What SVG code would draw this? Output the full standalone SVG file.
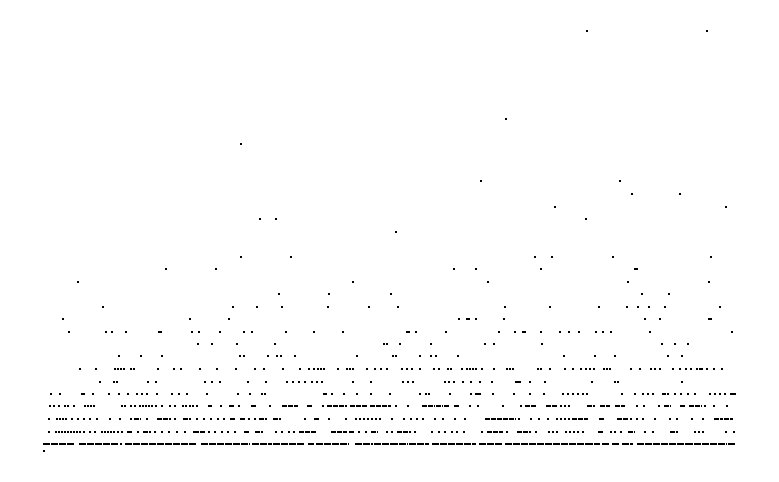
<svg xmlns="http://www.w3.org/2000/svg" xmlns:xlink="http://www.w3.org/1999/xlink" width="779" height="482" viewBox="0 0 779 482">
<style>
.s{stroke:#000;stroke-width:2;fill:none}
.b{stroke-dasharray:5 1}
.c{stroke-dasharray:7 1}
</style>
<defs><rect id="d" width="2" height="2" fill="#000"/></defs>
<rect width="779" height="482" fill="#fff"/>
<g id="dots">
<g id="r31" transform="translate(0,30)"><use href="#d" x="586"/><use href="#d" x="706"/></g>
<g id="r119" transform="translate(0,118)"><use href="#d" x="505"/></g>
<g id="r144" transform="translate(0,143)"><use href="#d" x="240"/></g>
<g id="r181" transform="translate(0,180)"><use href="#d" x="480"/><use href="#d" x="619"/></g>
<g id="r194" transform="translate(0,193)"><use href="#d" x="631"/><use href="#d" x="679"/></g>
<g id="r207" transform="translate(0,206)"><use href="#d" x="554"/><use href="#d" x="725"/></g>
<g id="r219" transform="translate(0,218)"><use href="#d" x="259"/><use href="#d" x="275"/><use href="#d" x="585"/></g>
<g id="r232" transform="translate(0,231)"><use href="#d" x="395"/></g>
<g id="r257" transform="translate(0,256)"><use href="#d" x="240"/><use href="#d" x="290"/><use href="#d" x="534"/><use href="#d" x="551"/><use href="#d" x="612"/><use href="#d" x="710"/></g>
<g id="r269" transform="translate(0,268)"><use href="#d" x="165"/><use href="#d" x="215"/><use href="#d" x="453"/><use href="#d" x="475"/><use href="#d" x="540"/><use href="#d" x="634"/><use href="#d" x="636"/></g>
<g id="r282" transform="translate(0,281)"><use href="#d" x="77"/><use href="#d" x="352"/><use href="#d" x="487"/><use href="#d" x="627"/><use href="#d" x="708"/></g>
<g id="r294" transform="translate(0,293)"><use href="#d" x="278"/><use href="#d" x="328"/><use href="#d" x="390"/><use href="#d" x="641"/><use href="#d" x="668"/></g>
<g id="r307" transform="translate(0,306)"><use href="#d" x="102"/><use href="#d" x="232"/><use href="#d" x="256"/><use href="#d" x="281"/><use href="#d" x="327"/><use href="#d" x="368"/><use href="#d" x="397"/><use href="#d" x="504"/><use href="#d" x="549"/><use href="#d" x="598"/><use href="#d" x="626"/><use href="#d" x="637"/><use href="#d" x="648"/><use href="#d" x="664"/><use href="#d" x="719"/></g>
<g id="r319" transform="translate(0,318)"><use href="#d" x="62"/><use href="#d" x="189"/><use href="#d" x="228"/><use href="#d" x="458"/><use href="#d" x="466"/><use href="#d" x="468"/><use href="#d" x="475"/><use href="#d" x="503"/><use href="#d" x="644"/><use href="#d" x="659"/><use href="#d" x="708"/><use href="#d" x="710"/></g>
<g id="r332" transform="translate(0,331)"><use href="#d" x="68"/><use href="#d" x="105"/><use href="#d" x="111"/><use href="#d" x="125"/><use href="#d" x="158"/><use href="#d" x="160"/><use href="#d" x="191"/><use href="#d" x="198"/><use href="#d" x="219"/><use href="#d" x="243"/><use href="#d" x="251"/><use href="#d" x="285"/><use href="#d" x="313"/><use href="#d" x="342"/><use href="#d" x="406"/><use href="#d" x="408"/><use href="#d" x="415"/><use href="#d" x="445"/><use href="#d" x="498"/><use href="#d" x="514"/><use href="#d" x="522"/><use href="#d" x="524"/><use href="#d" x="540"/><use href="#d" x="559"/><use href="#d" x="568"/><use href="#d" x="578"/><use href="#d" x="595"/><use href="#d" x="602"/><use href="#d" x="610"/><use href="#d" x="649"/><use href="#d" x="731"/></g>
<g id="r344" transform="translate(0,343)"><use href="#d" x="197"/><use href="#d" x="211"/><use href="#d" x="236"/><use href="#d" x="274"/><use href="#d" x="383"/><use href="#d" x="386"/><use href="#d" x="399"/><use href="#d" x="430"/><use href="#d" x="484"/><use href="#d" x="493"/><use href="#d" x="541"/><use href="#d" x="661"/><use href="#d" x="674"/><use href="#d" x="687"/></g>
<g id="r356" transform="translate(0,355)"><use href="#d" x="118"/><use href="#d" x="140"/><use href="#d" x="161"/><use href="#d" x="239"/><use href="#d" x="243"/><use href="#d" x="267"/><use href="#d" x="276"/><use href="#d" x="280"/><use href="#d" x="294"/><use href="#d" x="356"/><use href="#d" x="392"/><use href="#d" x="395"/><use href="#d" x="419"/><use href="#d" x="430"/><use href="#d" x="435"/><use href="#d" x="457"/><use href="#d" x="563"/><use href="#d" x="594"/><use href="#d" x="614"/><use href="#d" x="667"/><use href="#d" x="681"/></g>
<g id="r369" transform="translate(0,368)"><use href="#d" x="79"/><use href="#d" x="95"/><use href="#d" x="114"/><use href="#d" x="117"/><use href="#d" x="120"/><use href="#d" x="123"/><use href="#d" x="130"/><use href="#d" x="133"/><use href="#d" x="157"/><use href="#d" x="173"/><use href="#d" x="180"/><use href="#d" x="199"/><use href="#d" x="216"/><use href="#d" x="235"/><use href="#d" x="254"/><use href="#d" x="263"/><use href="#d" x="282"/><use href="#d" x="299"/><use href="#d" x="308"/><use href="#d" x="313"/><use href="#d" x="317"/><use href="#d" x="320"/><use href="#d" x="323"/><use href="#d" x="337"/><use href="#d" x="346"/><use href="#d" x="349"/><use href="#d" x="352"/><use href="#d" x="366"/><use href="#d" x="374"/><use href="#d" x="380"/><use href="#d" x="386"/><use href="#d" x="401"/><use href="#d" x="406"/><use href="#d" x="411"/><use href="#d" x="419"/><use href="#d" x="433"/><use href="#d" x="438"/><use href="#d" x="447"/><use href="#d" x="450"/><use href="#d" x="461"/><use href="#d" x="466"/><use href="#d" x="469"/><use href="#d" x="472"/><use href="#d" x="475"/><use href="#d" x="481"/><use href="#d" x="493"/><use href="#d" x="506"/><use href="#d" x="509"/><use href="#d" x="512"/><use href="#d" x="537"/><use href="#d" x="540"/><use href="#d" x="549"/><use href="#d" x="564"/><use href="#d" x="572"/><use href="#d" x="580"/><use href="#d" x="585"/><use href="#d" x="589"/><use href="#d" x="593"/><use href="#d" x="603"/><use href="#d" x="606"/><use href="#d" x="609"/><use href="#d" x="630"/><use href="#d" x="639"/><use href="#d" x="650"/><use href="#d" x="654"/><use href="#d" x="659"/><use href="#d" x="672"/><use href="#d" x="679"/><use href="#d" x="685"/><use href="#d" x="690"/><use href="#d" x="696"/><use href="#d" x="699"/><use href="#d" x="701"/><use href="#d" x="706"/><use href="#d" x="713"/><use href="#d" x="721"/></g>
<g id="r382" transform="translate(0,381)"><use href="#d" x="99"/><use href="#d" x="113"/><use href="#d" x="116"/><use href="#d" x="147"/><use href="#d" x="155"/><use href="#d" x="204"/><use href="#d" x="211"/><use href="#d" x="219"/><use href="#d" x="247"/><use href="#d" x="265"/><use href="#d" x="286"/><use href="#d" x="292"/><use href="#d" x="298"/><use href="#d" x="304"/><use href="#d" x="311"/><use href="#d" x="316"/><use href="#d" x="321"/><use href="#d" x="352"/><use href="#d" x="370"/><use href="#d" x="402"/><use href="#d" x="407"/><use href="#d" x="412"/><use href="#d" x="444"/><use href="#d" x="448"/><use href="#d" x="453"/><use href="#d" x="462"/><use href="#d" x="470"/><use href="#d" x="479"/><use href="#d" x="491"/><use href="#d" x="515"/><use href="#d" x="517"/><use href="#d" x="519"/><use href="#d" x="529"/><use href="#d" x="544"/><use href="#d" x="591"/><use href="#d" x="614"/><use href="#d" x="617"/><use href="#d" x="681"/></g>
<g id="r394" transform="translate(0,393)"><use href="#d" x="50"/><use href="#d" x="59"/><use href="#d" x="81"/><use href="#d" x="83"/><use href="#d" x="92"/><use href="#d" x="108"/><use href="#d" x="118"/><use href="#d" x="127"/><use href="#d" x="136"/><use href="#d" x="141"/><use href="#d" x="146"/><use href="#d" x="156"/><use href="#d" x="171"/><use href="#d" x="178"/><use href="#d" x="186"/><use href="#d" x="206"/><use href="#d" x="237"/><use href="#d" x="249"/><use href="#d" x="261"/><use href="#d" x="264"/><use href="#d" x="323"/><use href="#d" x="325"/><use href="#d" x="331"/><use href="#d" x="343"/><use href="#d" x="356"/><use href="#d" x="370"/><use href="#d" x="389"/><use href="#d" x="419"/><use href="#d" x="425"/><use href="#d" x="428"/><use href="#d" x="449"/><use href="#d" x="470"/><use href="#d" x="475"/><use href="#d" x="477"/><use href="#d" x="479"/><use href="#d" x="492"/><use href="#d" x="513"/><use href="#d" x="529"/><use href="#d" x="543"/><use href="#d" x="562"/><use href="#d" x="567"/><use href="#d" x="572"/><use href="#d" x="577"/><use href="#d" x="582"/><use href="#d" x="586"/><use href="#d" x="621"/><use href="#d" x="634"/><use href="#d" x="642"/><use href="#d" x="647"/><use href="#d" x="652"/><use href="#d" x="662"/><use href="#d" x="664"/><use href="#d" x="667"/><use href="#d" x="674"/><use href="#d" x="680"/><use href="#d" x="687"/><use href="#d" x="694"/><use href="#d" x="709"/><use href="#d" x="714"/><use href="#d" x="719"/><use href="#d" x="724"/><use href="#d" x="730"/><use href="#d" x="732"/><use href="#d" x="734"/></g>
<g id="r406" transform="translate(0,405)"><use href="#d" x="49"/><use href="#d" x="53"/><use href="#d" x="58"/><use href="#d" x="64"/><use href="#d" x="67"/><use href="#d" x="73"/><use href="#d" x="84"/><use href="#d" x="87"/><use href="#d" x="90"/><use href="#d" x="93"/><use href="#d" x="121"/><use href="#d" x="124"/><use href="#d" x="130"/><use href="#d" x="134"/><use href="#d" x="139"/><use href="#d" x="142"/><use href="#d" x="145"/><use href="#d" x="148"/><use href="#d" x="151"/><use href="#d" x="155"/><use href="#d" x="161"/><use href="#d" x="169"/><use href="#d" x="174"/><use href="#d" x="182"/><use href="#d" x="185"/><use href="#d" x="189"/><use href="#d" x="192"/><use href="#d" x="196"/><use href="#d" x="220"/><use href="#d" x="238"/><use href="#d" x="269"/><use href="#d" x="322"/><use href="#d" x="395"/><use href="#d" x="407"/><use href="#d" x="469"/><use href="#d" x="477"/><use href="#d" x="502"/><use href="#d" x="520"/><use href="#d" x="560"/><use href="#d" x="564"/><use href="#d" x="568"/><use href="#d" x="636"/><use href="#d" x="643"/><use href="#d" x="658"/><use href="#d" x="704"/><use href="#d" x="713"/><use href="#d" x="726"/>
<path class="s b" d="M208 1H212M229 1H234M251 1H256M282 1H298M307 1H313M327 1H347M350 1H368M370 1H391M422 1H435M436 1H443M444 1H449M454 1H459M525 1H537M546 1H558M587 1H595M600 1H610M615 1H625M664 1H671M680 1H686M689 1H702"/></g>
<g id="r419" transform="translate(0,418)"><use href="#d" x="48"/><use href="#d" x="56"/><use href="#d" x="59"/><use href="#d" x="62"/><use href="#d" x="65"/><use href="#d" x="71"/><use href="#d" x="77"/><use href="#d" x="83"/><use href="#d" x="89"/><use href="#d" x="96"/><use href="#d" x="109"/><use href="#d" x="119"/><use href="#d" x="130"/><use href="#d" x="146"/><use href="#d" x="174"/><use href="#d" x="196"/><use href="#d" x="203"/><use href="#d" x="210"/><use href="#d" x="217"/><use href="#d" x="223"/><use href="#d" x="248"/><use href="#d" x="254"/><use href="#d" x="304"/><use href="#d" x="328"/><use href="#d" x="345"/><use href="#d" x="355"/><use href="#d" x="359"/><use href="#d" x="363"/><use href="#d" x="367"/><use href="#d" x="371"/><use href="#d" x="375"/><use href="#d" x="379"/><use href="#d" x="391"/><use href="#d" x="403"/><use href="#d" x="410"/><use href="#d" x="416"/><use href="#d" x="422"/><use href="#d" x="434"/><use href="#d" x="442"/><use href="#d" x="454"/><use href="#d" x="464"/><use href="#d" x="518"/><use href="#d" x="530"/><use href="#d" x="538"/><use href="#d" x="547"/><use href="#d" x="556"/><use href="#d" x="560"/><use href="#d" x="564"/><use href="#d" x="568"/><use href="#d" x="586"/><use href="#d" x="630"/><use href="#d" x="636"/><use href="#d" x="642"/><use href="#d" x="654"/><use href="#d" x="669"/><use href="#d" x="676"/><use href="#d" x="691"/><use href="#d" x="702"/>
<path class="s b" d="M134 1H141M157 1H171M183 1H191M230 1H235M240 1H245M259 1H267M273 1H281M314 1H319M485 1H516M572 1H586M599 1H605M617 1H628M714 1H723M724 1H733"/></g>
<g id="r432" transform="translate(0,431)"><use href="#d" x="48"/><use href="#d" x="55"/><use href="#d" x="58"/><use href="#d" x="61"/><use href="#d" x="64"/><use href="#d" x="67"/><use href="#d" x="70"/><use href="#d" x="73"/><use href="#d" x="76"/><use href="#d" x="79"/><use href="#d" x="83"/><use href="#d" x="89"/><use href="#d" x="94"/><use href="#d" x="101"/><use href="#d" x="104"/><use href="#d" x="107"/><use href="#d" x="110"/><use href="#d" x="113"/><use href="#d" x="117"/><use href="#d" x="121"/><use href="#d" x="137"/><use href="#d" x="154"/><use href="#d" x="161"/><use href="#d" x="168"/><use href="#d" x="176"/><use href="#d" x="184"/><use href="#d" x="193"/><use href="#d" x="208"/><use href="#d" x="214"/><use href="#d" x="221"/><use href="#d" x="227"/><use href="#d" x="234"/><use href="#d" x="275"/><use href="#d" x="281"/><use href="#d" x="288"/><use href="#d" x="293"/><use href="#d" x="358"/><use href="#d" x="365"/><use href="#d" x="386"/><use href="#d" x="391"/><use href="#d" x="414"/><use href="#d" x="431"/><use href="#d" x="438"/><use href="#d" x="444"/><use href="#d" x="451"/><use href="#d" x="456"/><use href="#d" x="463"/><use href="#d" x="481"/><use href="#d" x="506"/><use href="#d" x="535"/><use href="#d" x="548"/><use href="#d" x="552"/><use href="#d" x="556"/><use href="#d" x="565"/><use href="#d" x="569"/><use href="#d" x="573"/><use href="#d" x="577"/><use href="#d" x="582"/><use href="#d" x="610"/><use href="#d" x="614"/><use href="#d" x="620"/><use href="#d" x="644"/><use href="#d" x="652"/><use href="#d" x="694"/><use href="#d" x="698"/><use href="#d" x="702"/><use href="#d" x="725"/><use href="#d" x="733"/>
<path class="s b" d="M127 1H133M143 1H151M194 1H205M244 1H250M255 1H263M299 1H316M331 1H347M349 1H355M371 1H378M397 1H411M487 1H503M517 1H531M598 1H604M628 1H635M670 1H678"/></g>
<g id="r444" transform="translate(0,443)"><use href="#d" x="120"/><use href="#d" x="631"/>
<path class="s c" d="M43 1H58M59 1H75M79 1H119M125 1H197M201 1H250M252 1H272M273 1H304M308 1H314M316 1H349M355 1H373M374 1H391M391 1H408M409 1H429M432 1H476M479 1H503M505 1H586M586 1H600M602 1H610M612 1H619M622 1H631M637 1H686M686 1H694M694 1H727M728 1H736"/></g>
<g id="r451" transform="translate(0,450)"><use href="#d" x="43"/></g>
</g>
</svg>
